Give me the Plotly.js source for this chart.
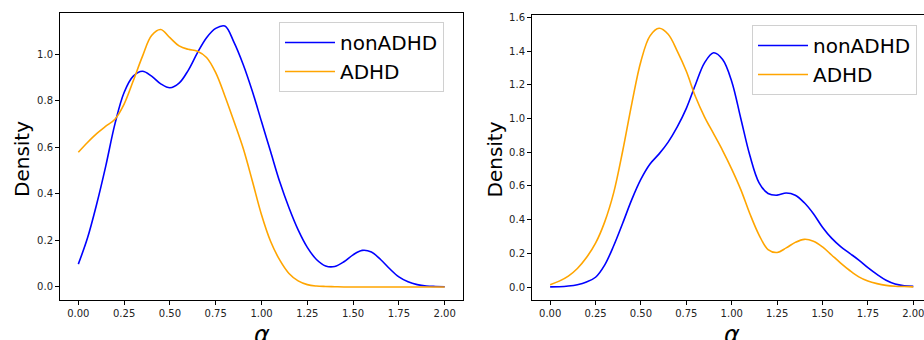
<!DOCTYPE html>
<html>
<head>
<meta charset="utf-8">
<script src="https://cdn.plot.ly/plotly-3.0.1.min.js"></script>
<style>html,body{margin:0;padding:0;background:#fff;}#chart{width:924px;height:340px;}</style>
</head>
<body>
<div id="chart"></div>
<script>
// Shared alpha grid (x values of the density estimates)
const alphaGrid = [0.00, 0.05, 0.10, 0.15, 0.20, 0.25, 0.30, 0.35, 0.40, 0.45,
                   0.50, 0.55, 0.60, 0.65, 0.70, 0.75, 0.80, 0.85, 0.90, 0.95,
                   1.00, 1.05, 1.10, 1.15, 1.20, 1.25, 1.30, 1.35, 1.40, 1.45,
                   1.50, 1.55, 1.60, 1.65, 1.70, 1.75, 1.80, 1.85, 1.90, 1.95, 2.00];
// Left panel densities
const leftNonADHD = [0.098, 0.21, 0.355, 0.52, 0.70, 0.835, 0.905, 0.926, 0.905, 0.872,
                     0.855, 0.875, 0.93, 1.005, 1.07, 1.11, 1.12, 1.05, 0.955, 0.84,
                     0.71, 0.58, 0.45, 0.34, 0.245, 0.17, 0.118, 0.09, 0.088, 0.108,
                     0.138, 0.157, 0.15, 0.118, 0.078, 0.043, 0.022, 0.01, 0.004, 0.002, 0.001];
const leftADHD    = [0.578, 0.62, 0.658, 0.69, 0.72, 0.785, 0.885, 0.99, 1.079, 1.105,
                     1.07, 1.035, 1.02, 1.012, 0.985, 0.92, 0.82, 0.71, 0.595, 0.455,
                     0.31, 0.195, 0.115, 0.058, 0.026, 0.01, 0.004, 0.002, 0.001, 0.0,
                     0.0, 0.0, 0.0, 0.0, 0.0, 0.0, 0.0, 0.0, 0.0, 0.0, 0.0];
// Right panel densities
const rightNonADHD = [0.001, 0.002, 0.006, 0.014, 0.03, 0.058, 0.13, 0.245, 0.38, 0.52,
                      0.64, 0.73, 0.79, 0.86, 0.95, 1.06, 1.20, 1.33, 1.39, 1.35,
                      1.22, 1.0, 0.78, 0.62, 0.555, 0.545, 0.558, 0.545, 0.50, 0.435,
                      0.355, 0.29, 0.24, 0.20, 0.16, 0.115, 0.075, 0.04, 0.018, 0.008, 0.004];
const rightADHD    = [0.014, 0.035, 0.065, 0.11, 0.175, 0.26, 0.385, 0.56, 0.81, 1.09,
                      1.34, 1.49, 1.535, 1.50, 1.40, 1.28, 1.13, 1.01, 0.91, 0.81,
                      0.70, 0.578, 0.435, 0.31, 0.222, 0.205, 0.232, 0.265, 0.283, 0.272,
                      0.238, 0.19, 0.142, 0.098, 0.06, 0.035, 0.02, 0.01, 0.005, 0.003, 0.001];

const seriesNames = ['nonADHD', 'ADHD'];
const xTicks = [0, 0.25, 0.5, 0.75, 1.0, 1.25, 1.5, 1.75, 2.0];
const leftYTicks = [0, 0.2, 0.4, 0.6, 0.8, 1.0];
const rightYTicks = [0, 0.2, 0.4, 0.6, 0.8, 1.0, 1.2, 1.4, 1.6];

const BLUE = '#0000ff', ORANGE = '#ffa500';
const FONT = 'DejaVu Sans, sans-serif';

function tr(y, name, color, xa, ya, lg) {
  return {x: alphaGrid, y: y, name: name, type: 'scatter', mode: 'lines',
    line: {color: color, width: 1.6, shape: 'spline', smoothing: 1},
    xaxis: xa, yaxis: ya, legend: lg, hoverinfo: 'skip'};
}

const data = [
  tr(leftNonADHD, seriesNames[0], BLUE, 'x', 'y', 'legend'),
  tr(leftADHD, seriesNames[1], ORANGE, 'x', 'y', 'legend'),
  tr(rightNonADHD, seriesNames[0], BLUE, 'x2', 'y2', 'legend2'),
  tr(rightADHD, seriesNames[1], ORANGE, 'x2', 'y2', 'legend2')
];

const tickFont = {family: FONT, size: 10, color: '#222'};
function xax(domain, range, anchor) {
  return {domain: domain, range: range, anchor: anchor, tickvals: xTicks, ticktext: xTicks.map(v => v.toFixed(2)),
    ticks: 'outside', ticklen: 4, tickcolor: '#000', tickfont: tickFont, ticklabeloverflow: 'allow',
    showline: true, linecolor: '#000', linewidth: 1, mirror: true,
    showgrid: false, zeroline: false};
}
function yax(domain, range, ticks, anchor, mirror) {
  return {domain: domain, range: range, anchor: anchor, tickvals: ticks, ticktext: ticks.map(v => v.toFixed(1)),
    ticks: 'outside', ticklen: 4, tickcolor: '#000', tickfont: tickFont,
    showline: true, linecolor: '#000', linewidth: 1, mirror: mirror,
    showgrid: false, zeroline: false};
}

const legendStyle = {
  font: {family: FONT, size: 20, color: '#000'},
  bgcolor: 'rgba(255,255,255,0.8)', bordercolor: '#d0d0d0', borderwidth: 1,
  xanchor: 'left', yanchor: 'top', itemwidth: 50, tracegroupgap: 0
};

const titleX = {family: FONT, size: 24, color: '#000'};
const titleY = {family: FONT, size: 20, color: '#000'};
const annotations = [
  {text: '<i>α</i>', xref: 'paper', yref: 'paper', x: 261.5/924, y: 1 - 319/340, xanchor: 'center', yanchor: 'top', showarrow: false, font: titleX},
  {text: '<i>α</i>', xref: 'paper', yref: 'paper', x: 732/924, y: 1 - 319/340, xanchor: 'center', yanchor: 'top', showarrow: false, font: titleX},
  {text: 'Density', xref: 'paper', yref: 'paper', x: 22/924, y: 1 - 159/340, xanchor: 'center', yanchor: 'middle', textangle: -90, showarrow: false, font: titleY},
  {text: 'Density', xref: 'paper', yref: 'paper', x: 494/924, y: 1 - 159.5/340, xanchor: 'center', yanchor: 'middle', textangle: -90, showarrow: false, font: titleY}
];

const layout = {
  width: 924, height: 340,
  margin: {l: 0, r: 0, t: 0, b: 0},
  paper_bgcolor: '#fff', plot_bgcolor: '#fff',
  showlegend: true,
  xaxis: xax([60/924, 463/924], [-0.1, 2.1], 'y'),
  yaxis: yax([40/340, 327/340], [-0.056, 1.176], leftYTicks, 'x', true),
  xaxis2: xax([532/924, 1], [-0.1, 2.059], 'y2'),
  yaxis2: yax([40/340, 325/340], [-0.077, 1.614], rightYTicks, 'x2', false),
  legend: Object.assign({x: 279/924, y: 1 - 22/340}, legendStyle),
  legend2: Object.assign({x: 752/924, y: 1 - 25/340}, legendStyle),
  annotations: annotations
};

Plotly.newPlot('chart', data, layout, {displayModeBar: false, staticPlot: true});
</script>
</body>
</html>
